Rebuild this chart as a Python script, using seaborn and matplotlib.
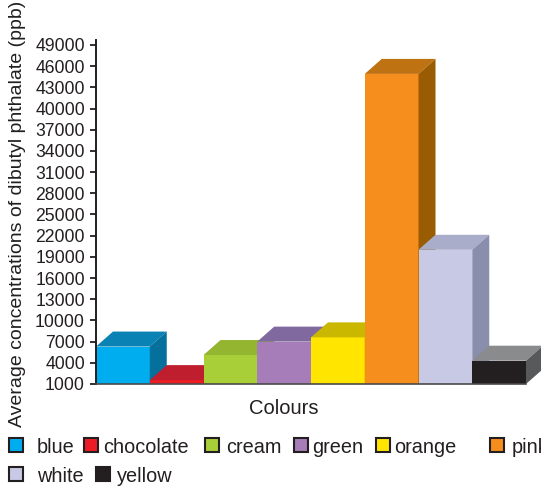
import matplotlib
matplotlib.use("Agg")
import matplotlib.pyplot as plt
from matplotlib.patches import Polygon, Rectangle
import seaborn as sns
import pandas as pd

# Data
colours = ["blue", "chocolate", "cream", "green", "orange", "pink", "white", "yellow"]
concentrations = [6300, 1550, 5100, 7000, 7600, 44900, 20000, 4300]
y_ticks = [1000, 4000, 7000, 10000, 13000, 16000, 19000, 22000, 25000,
           28000, 31000, 34000, 37000, 40000, 43000, 46000, 49000]

# Face shading for each bar: front, top, side
front_colors = ["#00AEEF", "#ED1C24", "#A8CF38", "#A67DB8", "#FFE500", "#F68E1E", "#C8C9E4", "#231F20"]
top_colors = ["#0A82B4", "#BE1E2D", "#94B52F", "#80699F", "#C9B700", "#BE7212", "#A9ADCA", "#8A8B8C"]
side_colors = ["#05709C", "#9E1A22", "#7E9A28", "#6C5688", "#A89900", "#9A5C02", "#898EAD", "#58595B"]

sns.set_theme(style="white")
plt.rcParams["font.family"] = ["Liberation Sans", "DejaVu Sans"]

W, H = 541, 487
fig = plt.figure(figsize=(W / 100, H / 100), dpi=100)

# axes box in pixels
ax_left, ax_right, ax_top, ax_bottom = 96, 526, 40, 384
ax = fig.add_axes([ax_left / W, 1 - ax_bottom / H,
                   (ax_right - ax_left) / W, (ax_bottom - ax_top) / H])

df = pd.DataFrame({"colour": colours, "value": concentrations})
sns.barplot(data=df, x="colour", y="value", hue="colour",
            palette=dict(zip(colours, front_colors)), width=1.0,
            linewidth=0, saturation=1, legend=False, ax=ax)

base = y_ticks[0]
ylim_top = 49700
ax.set_xlim(-0.5, len(colours) - 0.5)
ax.set_ylim(base, ylim_top)

# depth of the extruded faces, in data units
px_x = (ax_right - ax_left) / len(colours)
px_y = (ax_bottom - ax_top) / (ylim_top - base)
dx = 17 / px_x
dy = 15 / px_y

bars = sorted(ax.patches, key=lambda p: p.get_x())
for i, (bar, v) in enumerate(zip(bars, concentrations)):
    x0 = bar.get_x()
    x1 = x0 + bar.get_width()
    bar.set_zorder(3 * i + 2)
    top = Polygon([(x0, v), (x1, v), (x1 + dx, v + dy), (x0 + dx, v + dy)],
                  closed=True, facecolor=top_colors[i], edgecolor="none",
                  zorder=3 * i + 3, clip_on=False)
    side = Polygon([(x1, base), (x1, v), (x1 + dx, v + dy), (x1 + dx, base + dy)],
                   closed=True, facecolor=side_colors[i], edgecolor="none",
                   zorder=3 * i + 4, clip_on=False)
    ax.add_patch(top)
    ax.add_patch(side)

# axes styling
ax.set_yticks(y_ticks)
ax.set_yticklabels([str(t) for t in y_ticks], fontsize=12.7, color="#231F20")
ax.set_xticks([])
ax.tick_params(axis="y", direction="out", length=4, width=1.3, color="#231F20",
               pad=4, left=True)
for s in ["top", "right"]:
    ax.spines[s].set_visible(False)
ax.spines["left"].set_color("#231F20")
ax.spines["left"].set_linewidth(1.4)
ax.spines["left"].set_zorder(40)
ax.spines["bottom"].set_color("#4A4A4A")
ax.spines["bottom"].set_linewidth(1.2)
ax.spines["bottom"].set_zorder(40)
ax.grid(False)

ax.set_ylabel("Average concentrations of dibutyl phthalate (ppb)", fontsize=14,
              color="#231F20", va="center", ha="center")
ax.yaxis.set_label_coords((18 - ax_left) / (ax_right - ax_left),
                          (ax_bottom - 214) / (ax_bottom - ax_top))
ax.set_xlabel("Colours", fontsize=14.5, color="#231F20", va="center", ha="center")
ax.xaxis.set_label_coords((284 - ax_left) / (ax_right - ax_left),
                          (ax_bottom - 408) / (ax_bottom - ax_top))

# legend laid out in two rows below the axes
def fp(x, y):
    return x / W, 1 - y / H

legend_rows = [
    (453, [(8, 37), (83, 103), (204, 226), (293, 312), (375, 394), (489, 512)]),
    (482, [(8, 37), (95, 117)]),
]
k = 0
for baseline, entries in legend_rows:
    for box_x, text_x in entries:
        bx, by = fp(box_x + 1, baseline - 1)
        fig.add_artist(Rectangle((bx, by), 14 / W, 14 / H, transform=fig.transFigure,
                                 facecolor=front_colors[k], edgecolor="#231F20",
                                 linewidth=1.5))
        tx, ty = fp(text_x, baseline)
        fig.text(tx, ty, colours[k], fontsize=14.3, color="#231F20",
                 ha="left", va="baseline")
        k += 1

fig.savefig("out.png", dpi=100)
